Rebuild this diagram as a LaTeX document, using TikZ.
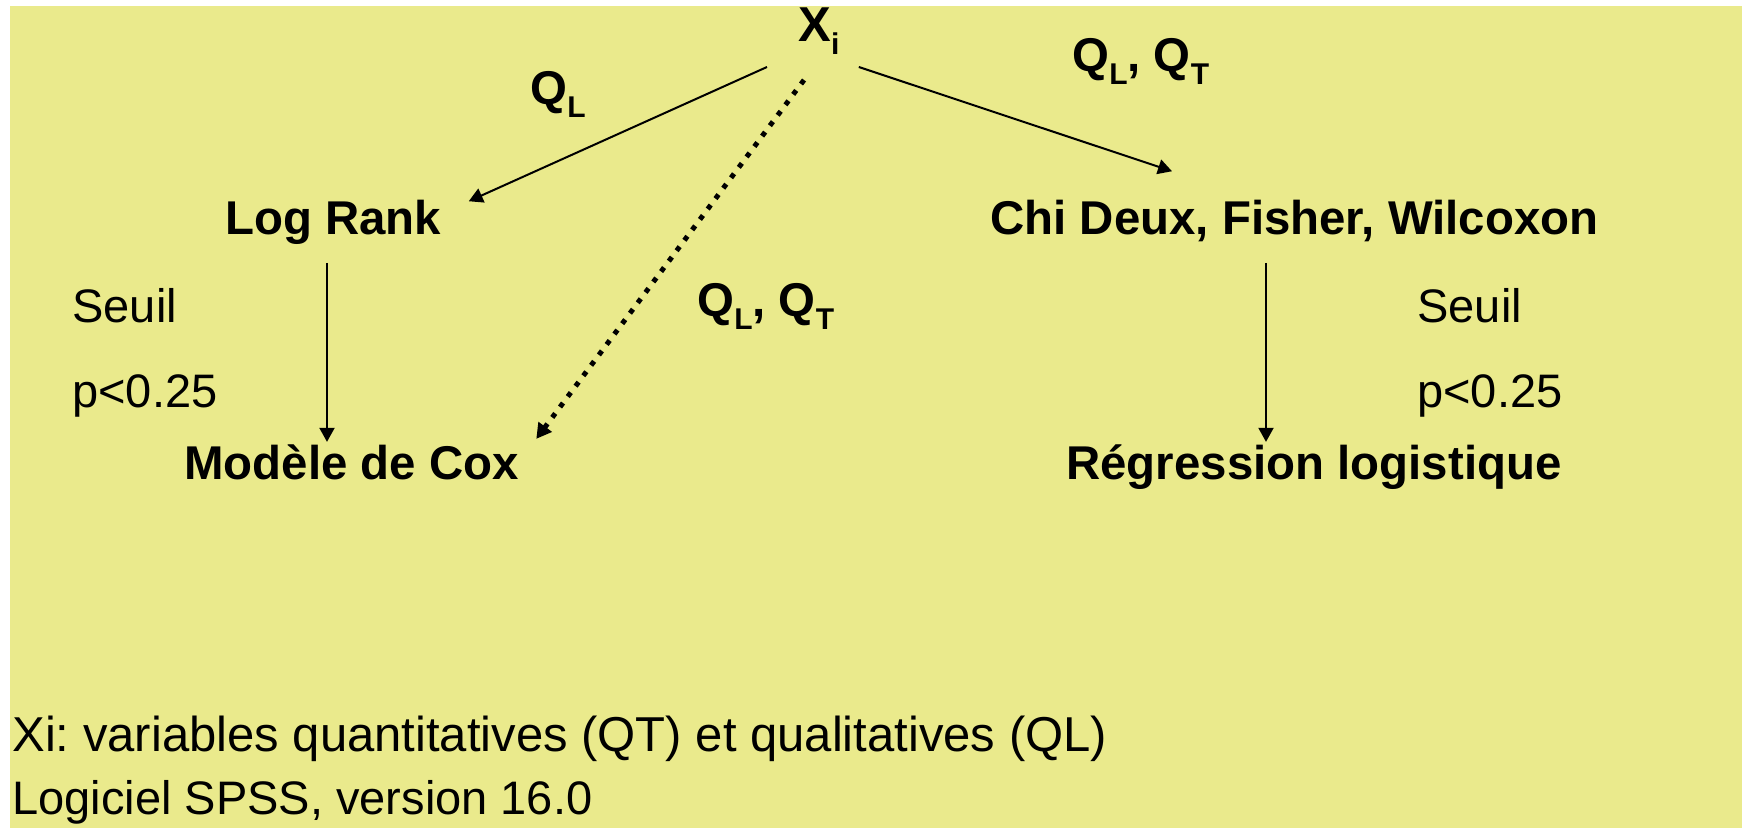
\documentclass[tikz,border=0pt]{standalone}
\usepackage{fontspec}
\setmainfont{Liberation Sans}
\usetikzlibrary{arrows.meta,calc}

\definecolor{slideyellow}{RGB}{234,234,140}
\newcommand{\lowidx}[1]{\raisebox{-6.5pt}{\fontsize{15}{15}\selectfont #1}}
\frenchspacing

\tikzset{
  lab/.style={font=\fontsize{23.7}{28}\selectfont\bfseries, inner sep=0pt, anchor=base west},
  note/.style={font=\fontsize{23.5}{28}\selectfont, inner sep=0pt, anchor=base west},
  link/.style={line width=1pt, -{Triangle[length=7pt,width=7.5pt]}},
  dotlink/.style={line width=2.5pt, dash pattern=on 2.5pt off 4pt,
    -{Triangle[length=7.5pt,width=8pt]}},
}

\begin{document}
\begin{tikzpicture}[x=0.5pt,y=-0.5pt]
  \useasboundingbox (0,0) rectangle (1742,828);
  \fill[slideyellow] (10,6) rectangle (1742,828);

  % top and tests
  \node[lab, font=\fontsize{24.5}{28}\selectfont\bfseries] (xi) at (798,42) {X\lowidx{i}};
  \node[lab] (logrank) at (225,235) {Log Rank};
  \node[lab] (chideux) at (990,235) {Chi Deux, Fisher, Wilcoxon};
  \node[lab] (cox) at (184,480) {Modèle de Cox};
  \node[lab] (regr) at (1066,480) {Régression logistique};

  % edge labels
  \node[lab] (qla) at (530,105) {Q\lowidx{L}};
  \node[lab] (qlqta) at (1072,72) {Q\lowidx{L}, Q\lowidx{T}};
  \node[lab] (qlqtb) at (697,317) {Q\lowidx{L}, Q\lowidx{T}};

  \node[note] (seuila) at (72,323) {Seuil};
  \node[note] (pa) at (72,408) {p<0.25};
  \node[note] (seuilb) at (1417,323) {Seuil};
  \node[note] (pb) at (1417,408) {p<0.25};

  \node[note, font=\fontsize{24.5}{28}\selectfont] (legi) at (12,752) {Xi: variables quantitatives (QT) et qualitatives (QL)};
  \node[note] (legii) at (12,814) {Logiciel SPSS, version 16.0};

  \draw[link] ($(xi.base west)+(-31,25)$) -- ($(logrank.north east)+(27,1)$);
  \draw[link] ($(xi.base east)+(19,25)$) -- ($(chideux.north west)+(182,-29)$);
  \draw[dotlink] ($(xi.base west)+(6,38)$) -- ($(cox.north east)+(17,-6)$);
  \draw[link] ($(logrank.base west)+(102,28)$) -- ($(cox.north west)+(143,-3)$);
  \draw[link] ($(chideux.base west)+(276,28)$) -- ($(regr.north west)+(200,-3)$);
\end{tikzpicture}
\end{document}
